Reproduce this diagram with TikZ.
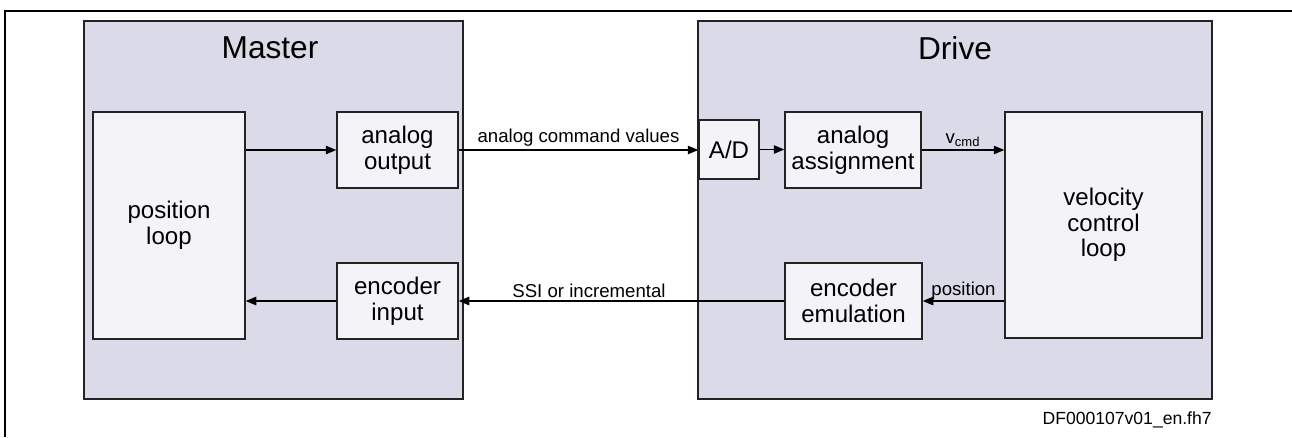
\documentclass[tikz,border=0pt]{standalone}
\usepackage{fontspec}
\setmainfont{Liberation Sans}
\usetikzlibrary{arrows.meta,positioning,calc}
\definecolor{grpbg}{RGB}{218,218,232}
\definecolor{blkbg}{RGB}{244,244,248}
\definecolor{lnclr}{RGB}{35,35,35}
\tikzset{
  grpblk/.style={draw=lnclr,line width=0.9pt,fill=grpbg,rectangle},
  blk/.style={draw=lnclr,line width=0.8pt,fill=blkbg,rectangle,align=center,inner sep=1pt,
    font=\fontsize{13.7}{14.6}\selectfont},
  ttl/.style={font=\fontsize{18}{20}\selectfont},
  arr/.style={-{Triangle[length=6pt,width=4.8pt]},line width=0.75pt,draw=black},
  lbl/.style={font=\fontsize{10.6}{12}\selectfont,inner sep=1.5pt}
}
\begin{document}
\begin{tikzpicture}
  \useasboundingbox (0,0) rectangle (25.84,-8.74);
  % frame
  \draw[line width=1.3pt] (0.10,-8.74) -- (0.10,-0.22) -- (25.84,-0.22);

  % Master and Drive
  \node[grpblk, minimum width=7.58cm, minimum height=7.56cm] (master) at (5.47,-4.20) {};
  \node[grpblk, minimum width=10.28cm, minimum height=7.56cm] (drive) at (19.10,-4.20) {};
  \node[ttl] (mttl) at (5.40,-0.96) {Master};
  \node[ttl] (dttl) at (19.10,-0.96) {Drive};

  % Master blocks
  \node[blk, minimum width=3.04cm, minimum height=4.54cm] (posloop) at (3.38,-4.51) {position\\loop};
  \node[blk, minimum width=2.42cm, minimum height=1.52cm] (aout) at (7.95,-3.00) {analog\\output};
  \node[blk, minimum width=2.42cm, minimum height=1.52cm] (encin) at (7.95,-6.02) {encoder\\input};

  % Drive blocks
  \node[blk, minimum width=1.20cm, minimum height=1.18cm] (ad) at (14.58,-2.99) {A/D};
  \node[blk, minimum width=2.72cm, minimum height=1.52cm] (aassign) at (17.06,-3.00) {analog\\assignment};
  \node[blk, minimum width=2.74cm, minimum height=1.52cm] (encemu) at (17.07,-6.02) {encoder\\emulation};
  \node[blk, minimum width=3.94cm, minimum height=4.52cm] (vloop) at (22.07,-4.50) {velocity\\control\\loop};

  % Connections
  \draw[arr] (posloop.east |- aout.west) -- (aout.west);
  \draw[arr] (encin.west) -- (posloop.east |- encin.west);
  \draw[arr] (aout.east) -- node[lbl, above] {analog command values} (ad.west |- aout.east);
  \draw[arr] (ad.east) -- (aassign.west |- ad.east);
  \draw[arr] (aassign.east) -- node[lbl, above] {v\textsubscript{cmd}} (vloop.west |- aassign.east);
  \draw[arr] (vloop.west |- encemu.east) -- node[lbl, above, inner sep=0.5pt] {position} (encemu.east);
  \draw[arr] (encemu.west) -- node[lbl, above, pos=0.6] {SSI or incremental} (encin.east);

  % drawing id
  \node[lbl, anchor=east, inner sep=0pt, font=\fontsize{10}{12}\selectfont] (figid) at (24.24,-8.40) {DF000107v01\_en.fh7};
\end{tikzpicture}
\end{document}
